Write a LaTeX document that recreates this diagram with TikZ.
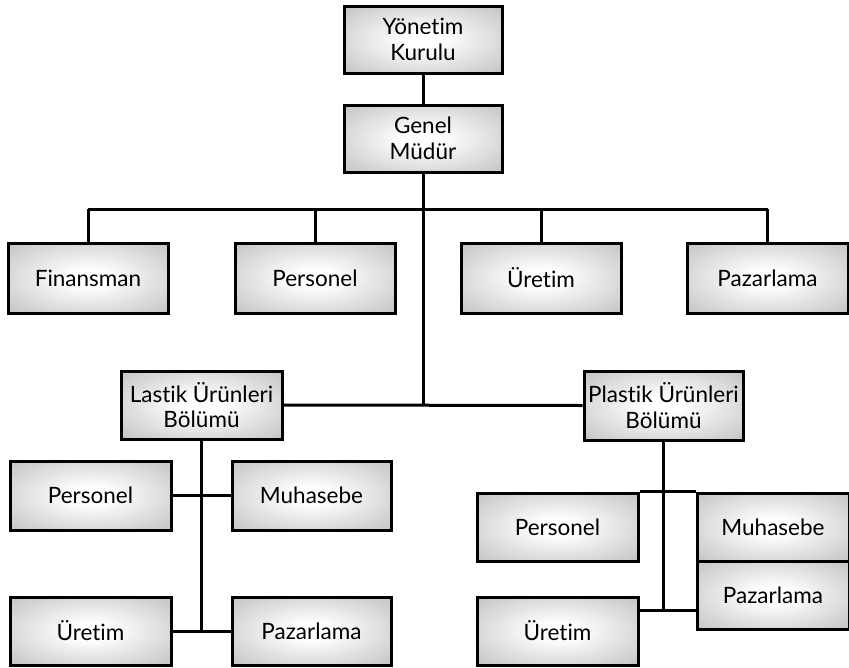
\documentclass[tikz,border=0pt]{standalone}
\usepackage{fontspec}
\setmainfont[Ligatures=NoCommon]{Lato}
\pgfdeclareradialshading{boxshade}{\pgfpoint{0bp}{0bp}}{%
  color(0bp)=(white); color(6bp)=(white); color(50bp)=(black!35); color(75bp)=(black!38)}
\tikzset{
  unit/.style={x=1pt,y=-1pt},
  box/.style={draw=black, line width=3pt, rectangle, shading=boxshade,
    inner sep=0pt, align=center, font=\fontsize{22.5}{25.5}\selectfont},
  link/.style={line width=3pt}
}
\begin{document}
\begin{tikzpicture}[unit]
\useasboundingbox (0,0) rectangle (849,667);
% top of the hierarchy
\node[box, minimum width=158pt, minimum height=67pt] (yk) at (423,39.5) {Yönetim\\Kurulu};
\node[box, minimum width=158pt, minimum height=67pt] (gm) at (423,138.5) {Genel\\Müdür};
% staff departments
\node[box, minimum width=160pt, minimum height=70pt] (fin) at (88,278) {Finansman};
\node[box, minimum width=160pt, minimum height=70pt] (per) at (315,278) {Personel};
\node[box, minimum width=160pt, minimum height=70pt] (ure) at (541,278) {Üretim};
\node[box, minimum width=161pt, minimum height=70pt] (paz) at (767.5,278) {Pazarlama};
% product divisions
\node[box, minimum width=161pt, minimum height=68pt] (las) at (201.5,405) {Lastik Ürünleri\\Bölümü};
\node[box, minimum width=159pt, minimum height=69pt] (pla) at (663.5,405.5) {Plastik Ürünleri\\Bölümü};
% rubber division units
\node[box, minimum width=161pt, minimum height=69pt] (lper) at (90.5,495.5) {Personel};
\node[box, minimum width=159pt, minimum height=69pt] (lmuh) at (311.5,495.5) {Muhasebe};
\node[box, minimum width=161pt, minimum height=68pt] (lure) at (90.5,631) {Üretim};
\node[box, minimum width=159pt, minimum height=68pt] (lpaz) at (311.5,631) {Pazarlama};
% plastics division units
\node[box, minimum width=161pt, minimum height=68pt] (pper) at (557.5,527) {Personel};
\node[box, minimum width=152pt, minimum height=68pt] (pmuh) at (773,527) {Muhasebe};
\node[box, minimum width=152pt, minimum height=68pt] (ppaz) at (773,595) {Pazarlama};
\node[box, minimum width=161pt, minimum height=68pt] (pure) at (557.5,631) {Üretim};
% coordinates of the junctions
\coordinate (bus) at (423,209);
\coordinate (div) at (423,405);
\coordinate (lbot) at (201.5,631);
\coordinate (pbot) at (663.5,610);
% connectors
\draw[link] (yk.south) -- (gm.north);
\draw[link] (gm.south) -- (div);
\draw[link] (fin.north |- bus) -- (paz.north |- bus);
\foreach \n in {fin,per,ure,paz} \draw[link] (\n.north |- bus) -- (\n.north);
\draw[link] (las.east) -- (pla.west);
\draw[link] (las.south) -- (lbot);
\draw[link] (lper.east) -- (lmuh.west);
\draw[link] (lure.east) -- (lpaz.west);
\draw[link] (pla.south) -- (pbot);
\draw[link] (pper.north east) -- (pmuh.north west);
\draw[link] (pure.east |- pbot) -- (ppaz.west |- pbot);
\end{tikzpicture}
\end{document}
